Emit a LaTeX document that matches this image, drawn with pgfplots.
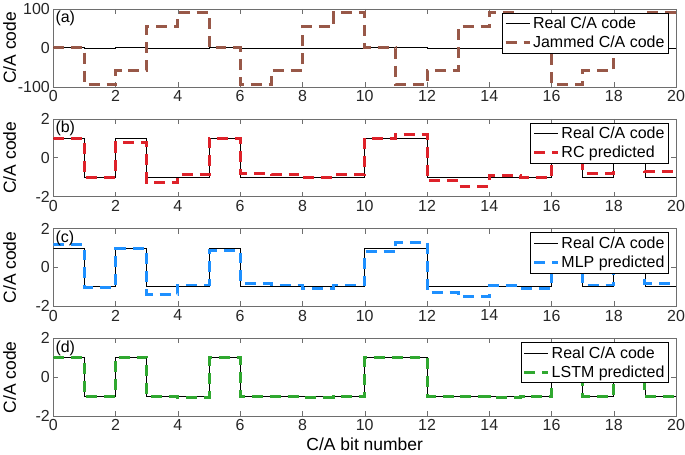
\documentclass[border=0pt]{standalone}
\usepackage{fontspec}
\setmainfont{Liberation Sans}
\usepackage{pgfplots}
\pgfplotsset{compat=1.18}
\usepgfplotslibrary{groupplots}

\definecolor{jambrown}{RGB}{152,88,72}
\definecolor{rcred}{RGB}{222,34,42}
\definecolor{mlpblue}{RGB}{30,144,255}
\definecolor{lstmgreen}{RGB}{48,168,48}
\definecolor{axgray}{RGB}{110,110,110}

\pgfplotsset{
  every axis/.append style={font=\fontsize{16}{18}\selectfont},
  real/.style={black, line width=0.9pt, const plot mark left, no marks},
  pred/.style={line width=3pt, dash pattern=on 11pt off 7pt, const plot mark left, no marks},
}

\begin{document}
\begin{tikzpicture}
\begin{groupplot}[
  group style={group size=1 by 4, vertical sep=32pt},
  width=624pt, height=78pt, scale only axis,
  xmin=0, xmax=20, xtick={0,2,...,20},
  tick align=inside, major tick length=5pt,
  axis line style={axgray}, every tick/.style={axgray},
  tick label style={text=black!85},
  xticklabel style={inner xsep=0pt},
  ylabel={C/A code},
  label style={font=\fontsize{17.5}{19}\selectfont},
  ylabel style={at={(axis description cs:-0.07,0.5)}, anchor=center},
  /pgf/number format/assume math mode=true,
  legend style={at={(rel axis cs:0.988,0.95)}, anchor=north east, draw=black,
    font=\fontsize{16}{18}\selectfont, row sep=2pt, inner sep=2pt},
  legend cell align=left,
  legend image code/.code={\draw[#1] (0pt,0pt) -- (24pt,0pt);},
]
% (a)
\nextgroupplot[ymin=-100, ymax=100, ytick={-100,0,100}]
\addplot[real] coordinates {(0,1)(1,-1)(2,1)(3,-1)(4,-1)(5,1)(6,-1)(7,-1)(8,-1)(9,-1)(10,1)(11,1)(12,-1)(13,-1)(14,-1)(15,-1)(16,1)(17,-1)(18,1)(19,-1)(20,-1)};
\addplot[pred, jambrown] coordinates {(0,0)(1,-94)(2,-58)(3,55)(4,90)(5,0)(6,-94)(7,-58)(8,55)(9,90)(10,0)(11,-94)(12,-58)(13,55)(14,90)(15,0)(16,-94)(17,-58)(18,55)(19,90)(20,90)};
\legend{Real C/A code, Jammed C/A code}
\node[anchor=north west, inner sep=2pt] at (rel axis cs:0,1) {(a)};
% (b)
\nextgroupplot[ymin=-2, ymax=2, ytick={-2,0,2}]
\addplot[real] coordinates {(0,1)(1,-1)(2,1)(3,-1)(4,-1)(5,1)(6,-1)(7,-1)(8,-1)(9,-1)(10,1)(11,1)(12,-1)(13,-1)(14,-1)(15,-1)(16,1)(17,-1)(18,1)(19,-1)(20,-1)};
\addplot[pred, rcred] coordinates {(0,1.0)(1,-1.0)(2,0.8)(3,-1.3)(4,-0.87)(5,1.0)(6,-0.8)(7,-0.87)(8,-1.03)(9,-0.87)(10,1.0)(11,1.2)(12,-1.19)(13,-1.47)(14,-0.9)(15,-1.03)(16,1.0)(17,-0.8)(18,1.0)(19,-0.73)(20,-0.73)};
\legend{Real C/A code, RC predicted}
\node[anchor=north west, inner sep=2pt] at (rel axis cs:0,1) {(b)};
% (c)
\nextgroupplot[ymin=-2, ymax=2, ytick={-2,0,2}]
\addplot[real] coordinates {(0,1)(1,-1)(2,1)(3,-1)(4,-1)(5,1)(6,-1)(7,-1)(8,-1)(9,-1)(10,1)(11,1)(12,-1)(13,-1)(14,-1)(15,-1)(16,1)(17,-1)(18,1)(19,-1)(20,-1)};
\addplot[pred, mlpblue] coordinates {(0,1.17)(1,-1.03)(2,0.97)(3,-1.37)(4,-0.9)(5,0.86)(6,-0.83)(7,-0.9)(8,-1.07)(9,-0.9)(10,0.8)(11,1.3)(12,-1.27)(13,-1.5)(14,-0.93)(15,-1.07)(16,1.0)(17,-0.9)(18,1.0)(19,-0.8)(20,-0.8)};
\legend{Real C/A code, MLP predicted}
\node[anchor=north west, inner sep=2pt] at (rel axis cs:0,1) {(c)};
% (d)
\nextgroupplot[ymin=-2, ymax=2, ytick={-2,0,2}, xlabel={C/A bit number}]
\addplot[real] coordinates {(0,1)(1,-1)(2,1)(3,-1)(4,-1)(5,1)(6,-1)(7,-1)(8,-1)(9,-1)(10,1)(11,1)(12,-1)(13,-1)(14,-1)(15,-1)(16,1)(17,-1)(18,1)(19,-1)(20,-1)};
\addplot[pred, lstmgreen] coordinates {(0,1.0)(1,-1.0)(2,1.03)(3,-1.0)(4,-1.03)(5,1.0)(6,-0.98)(7,-1.0)(8,-1.02)(9,-1.0)(10,1.0)(11,1.0)(12,-0.98)(13,-1.0)(14,-1.02)(15,-1.0)(16,1.0)(17,-1.0)(18,1.0)(19,-1.0)(20,-1.0)};
\legend{Real C/A code, LSTM predicted}
\node[anchor=north west, inner sep=2pt] at (rel axis cs:0,1) {(d)};
\end{groupplot}
\end{tikzpicture}
\end{document}
